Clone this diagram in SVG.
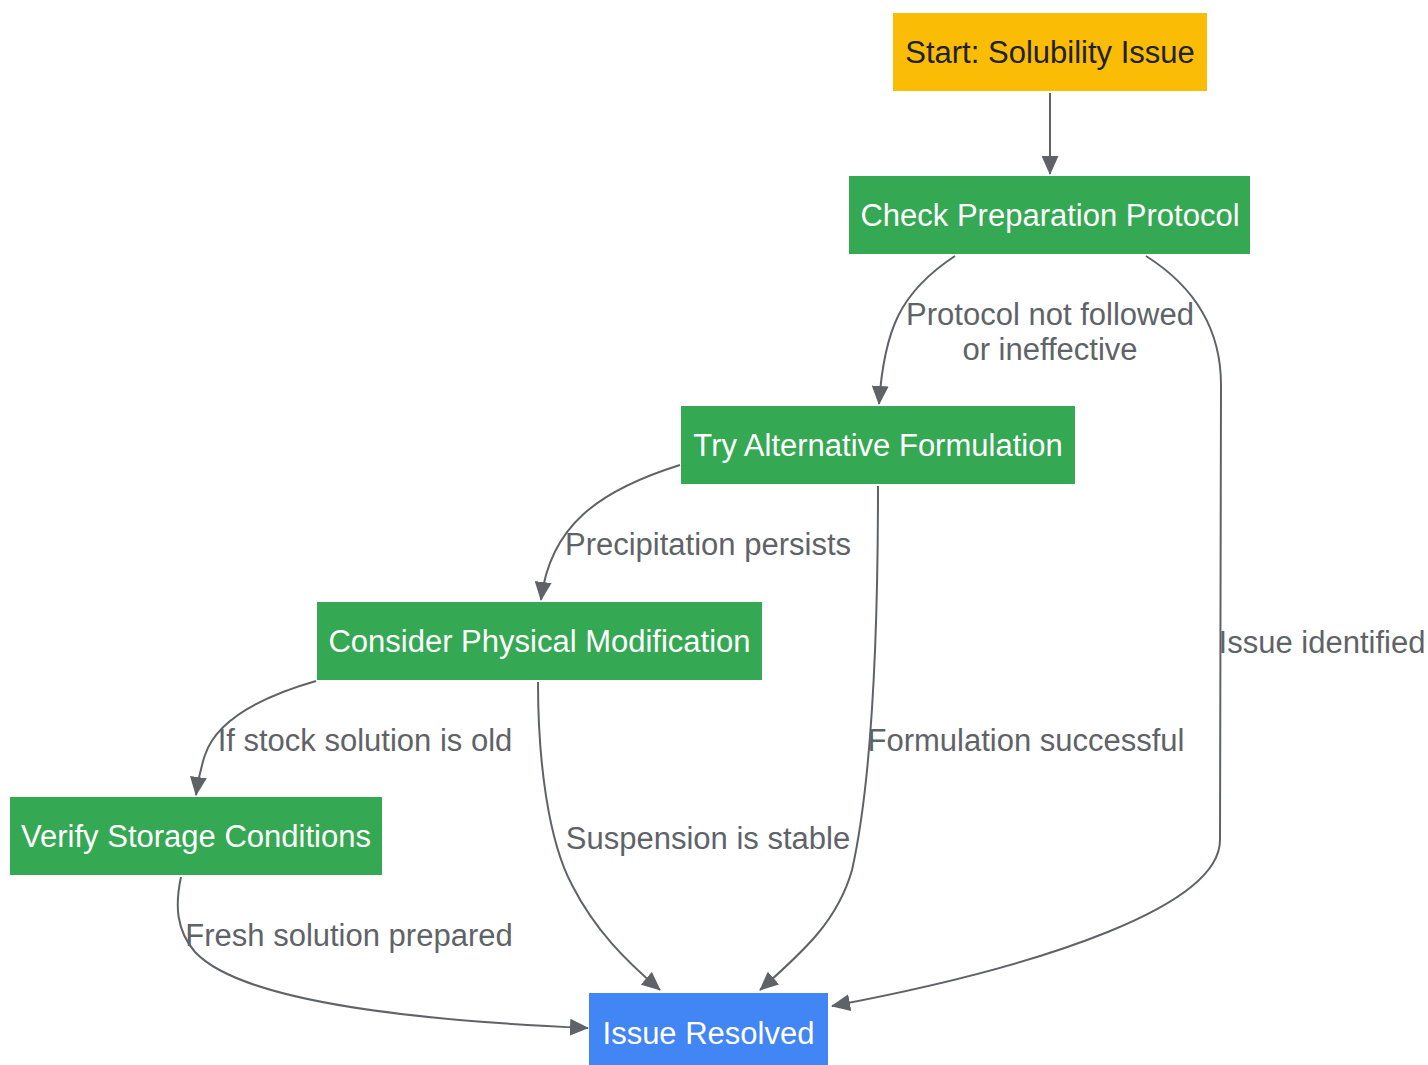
<svg xmlns="http://www.w3.org/2000/svg" width="1428" height="1065" viewBox="0 0 1428 1065">
<defs>
<marker id="arrow" viewBox="0 0 10 10" refX="9.5" refY="5" markerWidth="19" markerHeight="17" markerUnits="userSpaceOnUse" orient="auto" preserveAspectRatio="none">
<path d="M0,0 L10,5 L0,10 z" fill="#5F6368"/>
</marker>
<style>
.node text{font-family:"Liberation Sans",Arial,sans-serif;font-size:31px;text-anchor:middle}
.edges path{fill:none;stroke:#5F6368;stroke-width:2;marker-end:url(#arrow)}
.lbl{font-family:"Liberation Sans",Arial,sans-serif;font-size:31px;fill:#5F6368;text-anchor:middle}
.green{fill:#34A853}
.wt{fill:#FFFFFF}
</style>
</defs>
<rect width="1428" height="1065" fill="#FFFFFF"/>
<g class="edges">
<path d="M1050,93 L1050,174"/>
<path d="M955,256 C900,292 884,330 879,404"/>
<path d="M1146,256 C1195,287 1221,330 1221,385 L1220,840 C1220,905 1050,965 832,1006"/>
<path d="M680,465 C600,490 550,525 541,600"/>
<path d="M878,486 C878,650 870,790 852,870 C838,920 805,950 760,990"/>
<path d="M316,681 C250,700 215,725 205,755 C200,770 198,780 196,795"/>
<path d="M538,682 C538,760 548,840 572,885 C595,930 625,960 660,990"/>
<path d="M181,877 C175,905 176,930 195,952 C240,1000 400,1020 588,1028"/>
</g>
<g class="labels">
<text class="lbl" x="1050" y="325">Protocol not followed</text>
<text class="lbl" x="1050" y="360">or ineffective</text>
<text class="lbl" x="1322" y="653">Issue identified</text>
<text class="lbl" x="708" y="555">Precipitation persists</text>
<text class="lbl" x="1026" y="751">Formulation successful</text>
<text class="lbl" x="365" y="751">If stock solution is old</text>
<text class="lbl" x="708" y="849">Suspension is stable</text>
<text class="lbl" x="349" y="946">Fresh solution prepared</text>
</g>
<g id="start" class="node">
<rect x="893" y="13" width="314" height="78" fill="#FBBC05"/>
<text x="1050" y="63" fill="#202124">Start: Solubility Issue</text>
</g>
<g id="check" class="node">
<rect x="849" y="176" width="401" height="78" class="green"/>
<text x="1050" y="226" class="wt">Check Preparation Protocol</text>
</g>
<g id="try" class="node">
<rect x="681" y="406" width="394" height="78" class="green"/>
<text x="878" y="456" class="wt">Try Alternative Formulation</text>
</g>
<g id="consider" class="node">
<rect x="317" y="602" width="445" height="78" class="green"/>
<text x="539.5" y="652" class="wt">Consider Physical Modification</text>
</g>
<g id="verify" class="node">
<rect x="10" y="797" width="372" height="78" class="green"/>
<text x="196" y="847" class="wt">Verify Storage Conditions</text>
</g>
<g id="resolved" class="node">
<rect x="589" y="993" width="239" height="78" fill="#4285F4"/>
<text x="708.5" y="1044" class="wt">Issue Resolved</text>
</g>
</svg>
